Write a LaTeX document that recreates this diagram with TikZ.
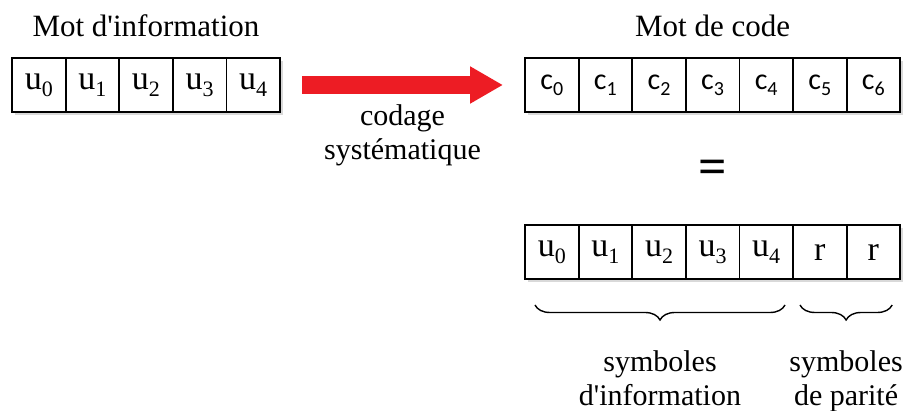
\documentclass[tikz,border=0pt]{standalone}
\usepackage{fontspec}
\setmainfont{Liberation Serif}
\newfontfamily\cfont{Carlito}
\usetikzlibrary{positioning,calc,arrows.meta,shadows,decorations.pathreplacing}
\definecolor{arrowred}{RGB}{237,28,36}
\newcommand{\us}[1]{u{\fontsize{11}{11}\selectfont\raisebox{-3.5pt}{#1}}}
\newcommand{\cs}[1]{{\cfont c{\fontsize{10}{10}\selectfont\raisebox{-3pt}{#1}}}}

\begin{document}
\begin{tikzpicture}[x=0.5pt,y=-0.5pt,
  cell/.style={draw,line width=0.9pt,fill=white,minimum width=26.8pt,minimum height=27pt,inner sep=0pt,outer sep=0pt,font=\fontsize{17}{17}\selectfont,drop shadow={shadow xshift=1.5pt,shadow yshift=-1.5pt,opacity=0.3}},
  ccell/.style={cell,font=\fontsize{15}{15}\selectfont},
  title/.style={font=\fontsize{15.5}{18}\selectfont},
  txt/.style={align=center,text=black,font=\fontsize{15}{17}\selectfont},
  brace/.style={decorate,decoration={brace,mirror,amplitude=7.5pt},line width=0.7pt},
  bigarrow/.style={arrowred,line width=9pt,-{Triangle[length=16.5pt,width=17.5pt]},shorten <=11pt,shorten >=11pt},
  node distance=0pt]
\useasboundingbox (0,0) rectangle (907,411);

% mot d'information
\node[cell,anchor=north west] (u0) at (12,58) {\us{0}};
\node[cell,right=of u0] (u1) {\us{1}};
\node[cell,right=of u1] (u2) {\us{2}};
\node[cell,right=of u2] (u3) {\us{3}};
\node[cell,right=of u3] (u4) {\us{4}};
\node[title,above=7pt of u2] (tinfo) {Mot d\textquotesingle information};

% mot de code
\node[ccell,anchor=north west] (c0) at (525,58) {\cs{0}};
\node[ccell,right=of c0] (c1) {\cs{1}};
\node[ccell,right=of c1] (c2) {\cs{2}};
\node[ccell,right=of c2] (c3) {\cs{3}};
\node[ccell,right=of c3] (c4) {\cs{4}};
\node[ccell,right=of c4] (c5) {\cs{5}};
\node[ccell,right=of c5] (c6) {\cs{6}};
\node[title,above=7pt of c3] (tcode) {Mot de code};

% forme systematique
\node[cell,anchor=north west] (s0) at (525,225) {\us{0}};
\node[cell,right=of s0] (s1) {\us{1}};
\node[cell,right=of s1] (s2) {\us{2}};
\node[cell,right=of s2] (s3) {\us{3}};
\node[cell,right=of s3] (s4) {\us{4}};
\node[cell,right=of s4] (s5) {r};
\node[cell,right=of s5] (s6) {r};

\node[font=\fontsize{25}{25}\selectfont\bfseries] (eq) at ($(c3)!0.52!(s3)$) {=};

\draw[bigarrow] (u4.east) -- (c0.west)
  node[midway,below=2pt,txt] (lcod) {codage\\systématique};

% accolades
\coordinate (b1a) at ($(s0.south west)+(5pt,-13pt)$);
\coordinate (b1b) at ($(s4.south east)+(-4pt,-13pt)$);
\coordinate (b2a) at ($(s5.south west)+(3.5pt,-13pt)$);
\coordinate (b2b) at ($(s6.south east)+(-4pt,-13pt)$);
\draw[brace] (b1a) -- (b1b) node[midway,below=19pt,txt] (linfo) {symboles\\d\textquotesingle information};
\draw[brace] (b2a) -- (b2b) node[midway,below=19pt,txt] (lpar) {symboles\\de parité};
\end{tikzpicture}
\end{document}
